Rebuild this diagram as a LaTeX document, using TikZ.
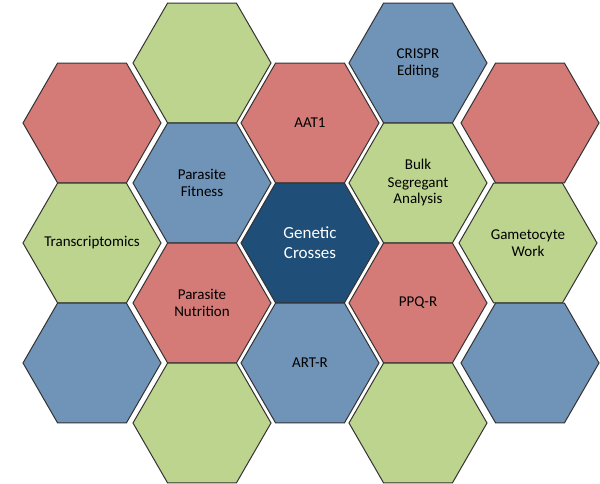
\documentclass[tikz,border=0pt]{standalone}
\usepackage{fontspec}
\setmainfont{Carlito}
\usetikzlibrary{shapes.geometric}
\definecolor{hred}{HTML}{D47B78}
\definecolor{hgreen}{HTML}{BDD48F}
\definecolor{hblue}{HTML}{7093B8}
\definecolor{hdark}{HTML}{1F4E79}
\begin{document}
\begin{tikzpicture}[x=1pt,y=-1pt,
  hex/.style={regular polygon, regular polygon sides=6, minimum size=138pt, inner sep=0pt,
    draw=black!80, line width=1pt, align=center, font=\fontsize{15}{17}\selectfont,
    label distance=0pt},
  R/.style={hex, fill=hred}, G/.style={hex, fill=hgreen}, B/.style={hex, fill=hblue},
  D/.style={hex, fill=hdark, text=white, font=\fontsize{17}{20}\selectfont}]
\useasboundingbox (0,0) rectangle (600,484);
\node[G] (g1) at (202,63) {};
\node[B] (crispr) at (418,63) {CRISPR\\Editing};
\node[R] (r1) at (92,123) {};
\node[R] (aat) at (310,123) {AAT1};
\node[R] (r2) at (530,123) {};
\node[B] (fit) at (202,183) {Parasite\\Fitness};
\node[G] (bulk) at (418,183) {Bulk\\Segregant\\Analysis};
\node[G, label={[font=\fontsize{15}{17}\selectfont]center:Transcriptomics}] (trans) at (92,243) {};
\node[D] (gc) at (310,243) {Genetic\\Crosses};
\node[G] (game) at (528,243) {Gametocyte\\Work};
\node[R] (nut) at (202,303) {Parasite\\Nutrition};
\node[R] (ppq) at (418,303) {PPQ-R};
\node[B] (b1) at (92,363) {};
\node[B] (art) at (310,363) {ART-R};
\node[B] (b2) at (530,363) {};
\node[G] (g2) at (202,423) {};
\node[G] (g3) at (418,423) {};
\end{tikzpicture}
\end{document}
